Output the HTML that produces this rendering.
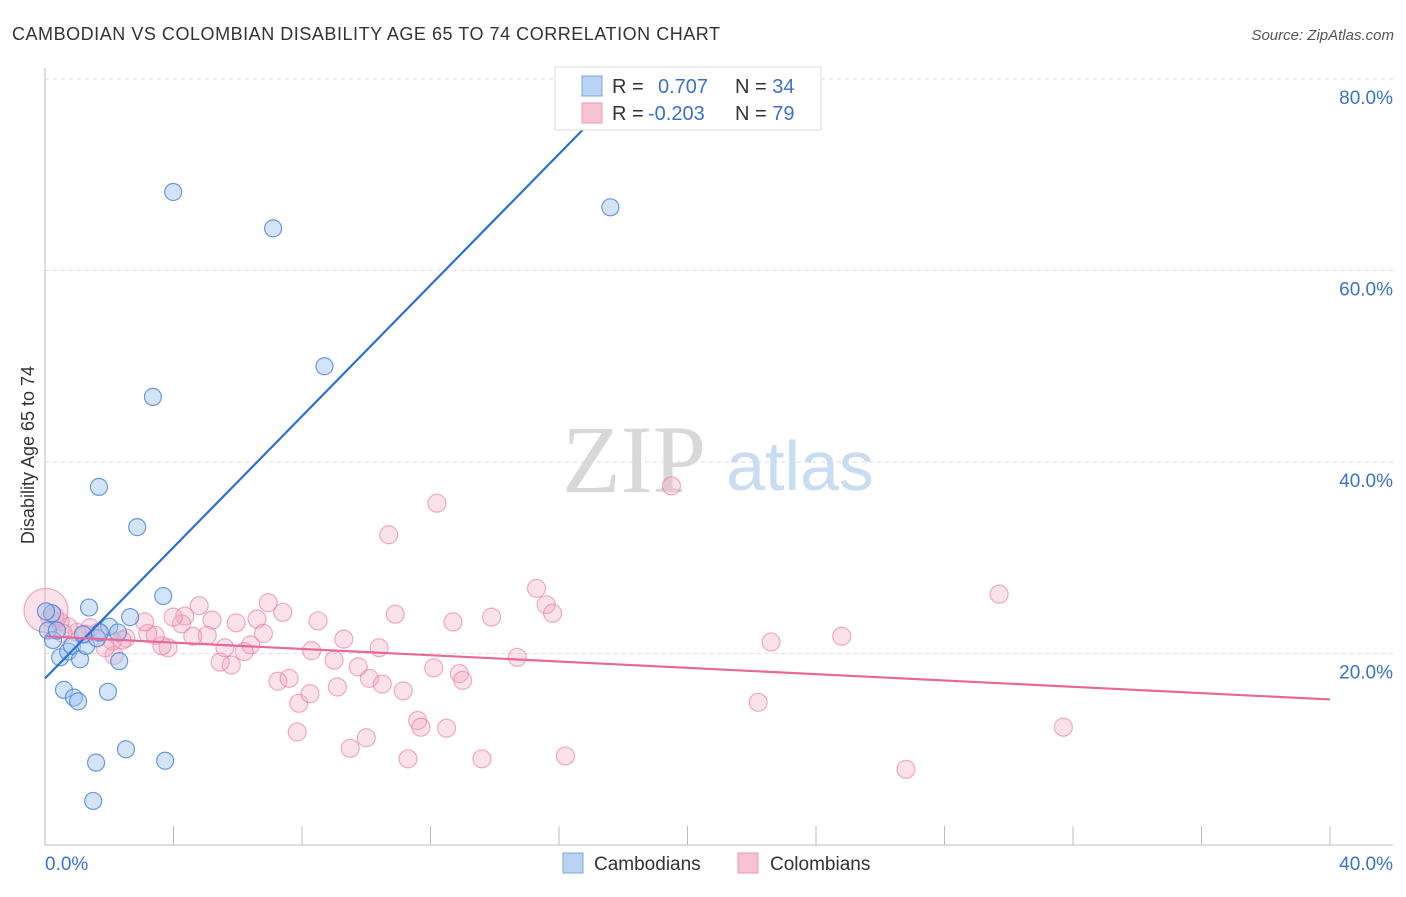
<!DOCTYPE html>
<html><head><meta charset="utf-8"><style>
body{margin:0;background:#fff;font-family:"Liberation Sans",sans-serif}
</style></head><body>
<svg id="c" width="1406" height="892" xmlns="http://www.w3.org/2000/svg" font-family="Liberation Sans, sans-serif">
<text x="12" y="40" font-size="18" fill="#333" textLength="708">CAMBODIAN VS COLOMBIAN DISABILITY AGE 65 TO 74 CORRELATION CHART</text>
<text x="1394" y="40" font-size="15" fill="#555" font-style="italic" text-anchor="end">Source: ZipAtlas.com</text>
<text x="634" y="492" font-size="96" fill="#d8d8d8" font-family="Liberation Serif, serif" text-anchor="middle">ZIP</text>
<text x="800" y="490" font-size="70" fill="#c8dcf2" text-anchor="middle">atlas</text>
<g id="grid"></g>
<g id="axes"></g>
<g id="pts"></g>
<g id="lines"></g>
<text transform="translate(34,455) rotate(-90)" font-size="18" fill="#333" text-anchor="middle">Disability Age 65 to 74</text>
<g>
<rect x="555" y="67" width="266" height="63" fill="#fff" stroke="#ddd"/>
<rect x="582" y="76" width="20" height="20" fill="#b9d3f3" stroke="#7aa8e0"/>
<rect x="582" y="103" width="20" height="20" fill="#f7c3d3" stroke="#eb98b3"/>
<text x="612" y="93" font-size="20" fill="#333">R =</text>
<text x="658" y="93" font-size="20" fill="#3a72cc">0.707</text>
<text x="735" y="93" font-size="20" fill="#333">N = <tspan fill="#3a72cc">34</tspan></text>
<text x="612" y="120" font-size="20" fill="#333">R =</text>
<text x="648" y="120" font-size="20" fill="#3a72cc">-0.203</text>
<text x="735" y="120" font-size="20" fill="#333">N = <tspan fill="#3a72cc">79</tspan></text>
</g>
<g>
<rect x="563" y="853" width="20" height="20" fill="#b9d3f3" stroke="#7aa8e0"/>
<text x="594" y="870" font-size="19" fill="#333">Cambodians</text>
<rect x="738" y="853" width="20" height="20" fill="#f7c3d3" stroke="#eb98b3"/>
<text x="770" y="870" font-size="19" fill="#333">Colombians</text>
</g>
</svg>
<script>
const NS="http://www.w3.org/2000/svg";
const yTicks=[20,40,60,80];
const yTickLabels=["20.0%","40.0%","60.0%","80.0%"];
const xTicks=[0,4,8,12,16,20,24,28,32,36,40];
const blueX=[3.99,7.1,17.6,8.7,3.36,1.68,2.87,3.68,1.37,2.65,2.0,0.22,0.09,0.25,0.47,0.72,0.84,1.09,1.28,1.62,2.27,2.31,0.59,0.9,1.03,1.96,2.52,3.74,1.59,1.5,0.03,0.37,1.18,1.71];
const blueY=[68.2,64.4,66.6,50,46.8,37.4,33.2,26,24.8,23.8,22.8,24.2,22.4,21.4,19.6,20.2,20.8,19.4,20.8,21.6,22.2,19.2,16.2,15.4,15,16,10,8.8,8.6,4.6,24.4,22.4,22,22.2];
const pinkX=[12.2,10.7,19.5,15.3,15.6,15.8,29.7,13.9,12.7,10.9,24.8,22.6,14.7,12.1,12.9,13.0,22.2,31.7,26.8,16.2,13.6,11.3,12.5,11.6,11.7,10.0,9.5,7.85,7.9,8.25,7.25,7.6,9.1,9.75,10.1,10.5,11.15,10.4,9.3,9.0,8.3,8.5,7.4,6.95,6.6,6.8,6.4,6.2,5.95,5.8,5.45,5.6,5.2,5.05,4.6,4.8,4.35,4.25,3.99,3.83,3.64,3.43,3.2,3.1,2.52,2.4,2.15,2.1,1.87,1.65,1.4,1.25,1.0,0.72,0.47,0.3,0.15,0.56,0.03];
const pinkY=[35.7,32.4,37.5,26.8,25.1,24.2,26.2,23.8,23.3,24.1,21.8,21.2,19.6,18.5,17.9,17.2,14.9,12.3,7.9,9.3,9.0,9.0,12.2,13.0,12.3,11.2,10.1,11.8,14.8,15.8,17.1,17.4,16.5,18.6,17.4,16.8,16.1,20.6,21.5,19.3,20.3,23.4,24.3,25.3,23.6,22.1,20.9,20.2,23.2,18.8,19.1,20.6,23.5,21.9,21.8,25.0,23.9,23.1,23.8,20.6,20.8,21.9,22.1,23.3,21.6,21.4,19.8,21.3,20.6,22.2,22.7,22.0,22.2,22.8,23.3,23.9,23.7,22.1,24.5];
const blueLine=[[0,17.4],[18.2,79.7]];
const pinkLine=[[0,21.8],[40,15.2]];
const sx=v=>45+v*32.125, sy=v=>845-v*9.575;
function mk(t,a,p){const e=document.createElementNS(NS,t);for(const k in a)e.setAttribute(k,a[k]);document.getElementById(p).appendChild(e);return e;}
yTicks.forEach((t,i)=>{
 const g=mk("line",{x1:45,x2:1393,y1:sy(t),y2:sy(t),stroke:"#ddd","stroke-dasharray":"4,4"},"grid");
 
 
 const l=mk("text",{x:1393,y:sy(t)+25,"font-size":19,fill:"#3a72cc","text-anchor":"end"},"axes");
 l.textContent=yTickLabels[i];
 
 
});
const ax=mk("line",{x1:45,x2:45,y1:68,y2:845,stroke:"#bbb"},"axes");


const bx=mk("line",{x1:45,x2:1393,y1:845,y2:845,stroke:"#bbb"},"axes");


xTicks.forEach(t=>{
 const k=mk("line",{x1:sx(t),x2:sx(t),y1:826,y2:845,stroke:"#bbb"},"axes");
 
 
});
const x0=mk("text",{x:45,y:870,"font-size":19,fill:"#3a72cc"},"axes");x0.textContent="0.0%";


const x1=mk("text",{x:1393,y:870,"font-size":19,fill:"#3a72cc","text-anchor":"end"},"axes");x1.textContent="40.0%";


pinkX.forEach((x,i)=>{
 const r=(i===pinkX.length-1)?22:9;
 const c=mk("circle",{cx:sx(x),cy:sy(pinkY[i]),r:r,fill:"rgba(244,170,195,0.35)",stroke:"rgba(232,120,160,0.6)","stroke-width":1.2},"pts");
 
 
});
blueX.forEach((x,i)=>{
 const c=mk("circle",{cx:sx(x),cy:sy(blueY[i]),r:8.5,fill:"rgba(160,195,240,0.45)",stroke:"rgba(70,130,215,0.8)","stroke-width":1.2},"pts");
 
 
});
const bl=mk("line",{x1:sx(blueLine[0][0]),y1:sy(blueLine[0][1]),x2:sx(blueLine[1][0]),y2:sy(blueLine[1][1]),stroke:"#2a70d6","stroke-width":2.2},"lines");


const pl=mk("line",{x1:sx(pinkLine[0][0]),y1:sy(pinkLine[0][1]),x2:sx(pinkLine[1][0]),y2:sy(pinkLine[1][1]),stroke:"#e8679a","stroke-width":2.2},"lines");


</script>
</body></html>
